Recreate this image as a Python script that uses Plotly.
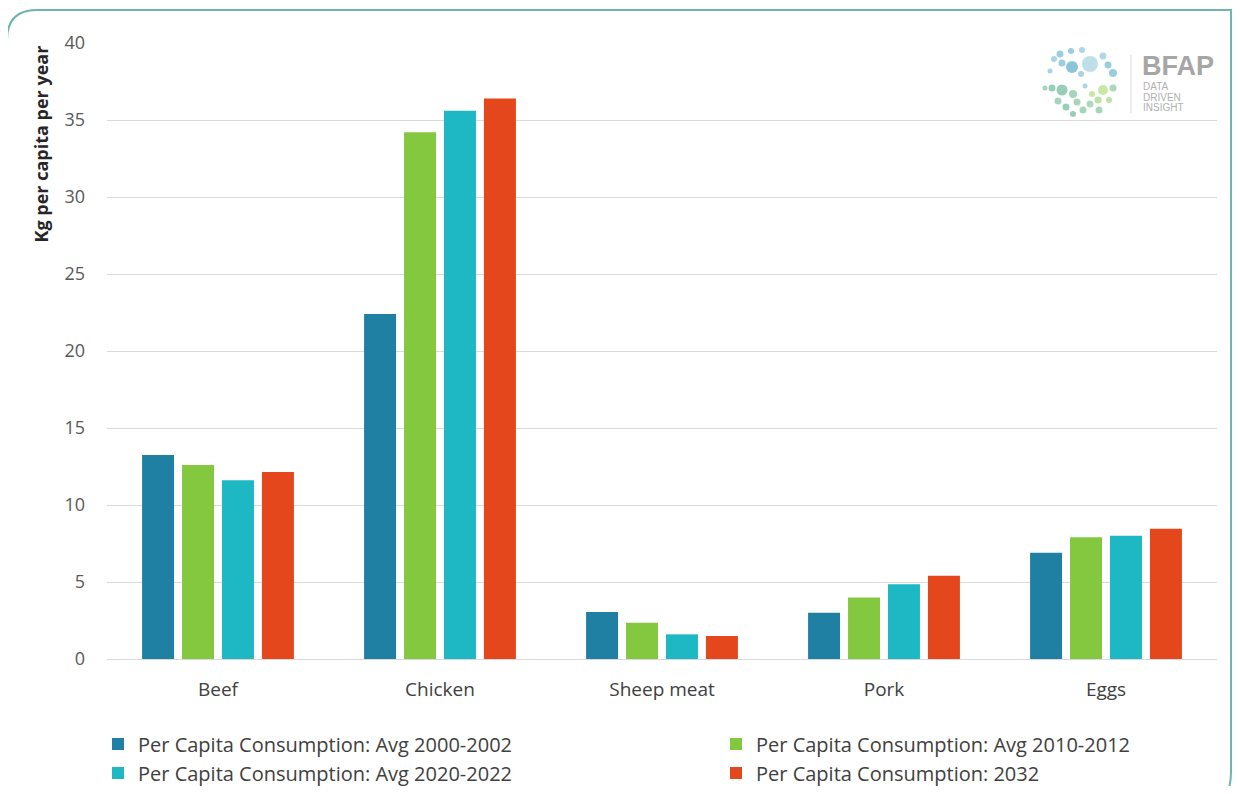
import plotly.graph_objects as go

categories = ["Beef", "Chicken", "Sheep meat", "Pork", "Eggs"]
series_names = [
    "Per Capita Consumption: Avg 2000-2002",
    "Per Capita Consumption: Avg 2010-2012",
    "Per Capita Consumption: Avg 2020-2022",
    "Per Capita Consumption: 2032",
]
avg_2000_2002 = [13.25, 22.4, 3.05, 3.0, 6.9]
avg_2010_2012 = [12.6, 34.2, 2.35, 4.0, 7.9]
avg_2020_2022 = [11.6, 35.6, 1.6, 4.85, 8.0]
proj_2032 = [12.15, 36.4, 1.5, 5.4, 8.45]
series_values = [avg_2000_2002, avg_2010_2012, avg_2020_2022, proj_2032]
colors = ["#1f80a4", "#84c840", "#1db8c4", "#e4471c"]
y_ticks = [0, 5, 10, 15, 20, 25, 30, 35, 40]

# page has an 8px body margin; work in screen pixels, convert to paper coords
OFF = 8
W, H = 1240 - 2 * OFF, 794 - 2 * OFF
L, R, T, B = 107, 1217, 43, 659  # screen pixels of plot area
pw, ph = R - L, B - T


def px(x):
    return (x - L) / pw


def py(y):
    return (B - y) / ph


legend_ids = ["legend", "legend2", "legend3", "legend4"]
legend_pos = [(98, 744), (716, 744), (98, 773), (716, 773)]

fig = go.Figure()
for name, vals, col, lid in zip(series_names, series_values, colors, legend_ids):
    fig.add_trace(go.Bar(x=categories, y=vals, name=name, marker_color=col,
                         marker_line_width=0, legend=lid))

shapes = []
# rounded frame
RE = 1231
path = (f"M {px(7)},{py(810)} L {px(7)},{py(40)} Q {px(7)},{py(10)} {px(37)},{py(10)} "
        f"L {px(RE)},{py(10)} L {px(RE)},{py(772)} Q {px(RE)},{py(786)} {px(RE - 5)},{py(796)}")
shapes.append(dict(type="path", path=path, xref="paper", yref="paper",
                   line=dict(color="#6db5ad", width=2)))

# logo decoration
logo_dots = [
    (1060, 54, 3.5, "#8fc9dc"), (1071, 51, 3, "#8fc9dc"), (1082, 50, 3, "#a6d3e2"),
    (1090, 64, 8, "#b6dbe6"), (1072, 67, 6, "#7fbfd6"), (1062, 63, 3.5, "#8fc9dc"),
    (1054, 59, 3, "#9fd0e0"), (1103, 56, 3.5, "#a6d3e2"), (1108, 65, 3.5, "#8fc9dc"),
    (1113, 73, 4, "#8fc9dc"), (1050, 71, 2.5, "#9fd0e0"), (1081, 74, 3, "#9fd0e0"),
    (1062, 90, 5.5, "#8cc9ad"), (1052, 88, 3.5, "#8cc9ad"), (1073, 94, 4, "#9bd1b3"),
    (1077, 102, 3.5, "#9bd1b3"), (1058, 101, 3.5, "#9bd1b3"), (1066, 107, 3.5, "#8cc9ad"),
    (1090, 104, 3.5, "#a4d6b6"), (1098, 100, 3.5, "#b5df9a"), (1103, 90, 5, "#c2e69a"),
    (1113, 88, 3.5, "#9fd5b0"), (1092, 94, 3, "#c2e69a"), (1083, 110, 3.5, "#9bd1b3"),
    (1099, 110, 3.5, "#9bd1b3"), (1073, 114, 3, "#8cc9ad"), (1045, 88, 2.5, "#9bd1b3"),
    (1109, 100, 3, "#b5df9a"), (1085, 86, 2.5, "#9fd0e0"),
]
for (cx, cy, r, c) in logo_dots:
    shapes.append(dict(type="circle", xref="paper", yref="paper",
                       x0=px(cx - r), x1=px(cx + r), y0=py(cy + r), y1=py(cy - r),
                       fillcolor=c, line_width=0, opacity=0.9))
shapes.append(dict(type="line", xref="paper", yref="paper", x0=px(1131), x1=px(1131),
                   y0=py(55), y1=py(113), line=dict(color="#d9d9d9", width=1)))

annotations = [
    dict(text="<b>Kg per capita per year</b>", textangle=-90, xref="paper", yref="paper",
         x=px(40), y=py(44), xanchor="center", yanchor="top", showarrow=False,
         font=dict(family="Open Sans", size=18, color="#262626")),
    dict(text="<b>BFAP</b>", xref="paper", yref="paper", x=px(1140), y=py(66),
         xanchor="left", yanchor="middle", showarrow=False,
         font=dict(family="Liberation Sans", size=27, color="#a6a6a6")),
]
for i, word in enumerate(["DATA", "DRIVEN", "INSIGHT"]):
    annotations.append(dict(text=word, xref="paper", yref="paper", x=px(1141),
                            y=py(87 + i * 10), xanchor="left", yanchor="middle",
                            showarrow=False,
                            font=dict(family="Liberation Sans", size=10, color="#b0b0b0")))

legends = {}
for lid, (lx, ly) in zip(legend_ids, legend_pos):
    legends[lid] = dict(orientation="h", xanchor="left", yanchor="middle",
                        x=px(lx), y=py(ly), itemwidth=30, bgcolor="rgba(0,0,0,0)",
                        font=dict(family="Open Sans", size=20, color="#404040"))

fig.update_layout(
    width=W, height=H,
    margin=dict(l=L - OFF, r=W - (R - OFF), t=T - OFF, b=H - (B - OFF), autoexpand=False),
    paper_bgcolor="white", plot_bgcolor="white",
    barmode="group", bargap=0.28, bargroupgap=0.2,
    font=dict(family="Open Sans", size=17, color="#595959"),
    shapes=shapes, annotations=annotations,
    showlegend=True,
    **legends,
)
fig.update_xaxes(showgrid=False, showline=True, linecolor="#d9d9d9", linewidth=1,
                 ticks="", tickfont=dict(size=19, color="#404040"), ticklabelstandoff=13)
fig.update_yaxes(range=[0, 40], tickvals=y_ticks, showgrid=True, gridcolor="#d9d9d9",
                 gridwidth=1, zeroline=False, showline=False, ticks="",
                 tickfont=dict(size=18, color="#595959"), ticklabelstandoff=21)

fig.write_html("out.html")
